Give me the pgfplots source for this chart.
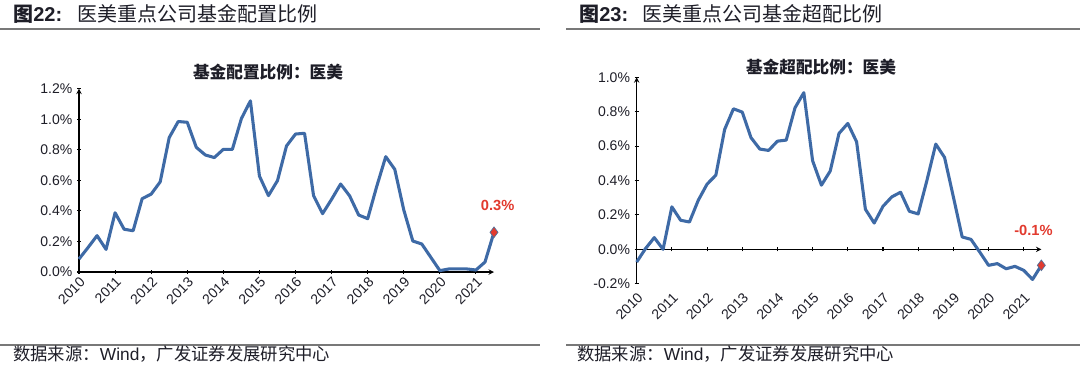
\documentclass[border=0pt]{standalone}
\usepackage{pgfplots}
\pgfplotsset{compat=1.18}
\usepackage{fontspec}
\setmainfont{Liberation Sans}
\newfontfamily\cjk{Noto Sans CJK SC}
\definecolor{lineblue}{RGB}{62,106,166}
\definecolor{lblred}{RGB}{226,58,46}
\definecolor{rulegray}{RGB}{120,120,120}
\definecolor{txt}{RGB}{30,30,40}

\pgfplotstableread{
x y
0 0.085
1 0.16
2 0.238
3 0.148
4 0.388
5 0.28
6 0.27
7 0.48
8 0.51
9 0.59
10 0.88
11 0.985
12 0.98
13 0.816
14 0.766
15 0.749
16 0.803
17 0.803
18 1.004
19 1.12
20 0.628
21 0.50
22 0.598
23 0.825
24 0.903
25 0.908
26 0.50
27 0.382
28 0.476
29 0.576
30 0.498
31 0.373
32 0.349
33 0.56
34 0.755
35 0.672
36 0.406
37 0.203
38 0.183
39 0.096
40 0.009
41 0.02
42 0.02
43 0.02
44 0.013
45 0.065
46 0.26
}\alloc

\pgfplotstableread{
x y
0 -0.074
1 0.004
2 0.068
3 0.0
4 0.247
5 0.169
6 0.159
7 0.285
8 0.379
9 0.431
10 0.697
11 0.817
12 0.798
13 0.649
14 0.583
15 0.575
16 0.629
17 0.635
18 0.823
19 0.911
20 0.515
21 0.373
22 0.455
23 0.674
24 0.732
25 0.625
26 0.233
27 0.153
28 0.25
29 0.305
30 0.332
31 0.221
32 0.206
33 0.402
34 0.612
35 0.534
36 0.305
37 0.072
38 0.058
39 -0.016
40 -0.093
41 -0.083
42 -0.113
43 -0.099
44 -0.122
45 -0.175
46 -0.093
}\overw

\pgfplotsset{
  mystyle/.style={
    scale only axis,
    axis line style={-, black, line width=0.8pt},
    tick style={black, line width=0.8pt},
    major tick length=3pt,
    tick align=outside,
    xmin=0, xmax=46,
    xtick={0,4,8,12,16,20,24,28,32,36,40,44},
    xticklabels={2010,2011,2012,2013,2014,2015,2016,2017,2018,2019,2020,2021},
    yticklabel style={font=\fontsize{10.5}{12}\selectfont, text=txt},
    /pgf/number format/assume math mode=true,
    yticklabel={\pgfmathprintnumber[fixed,fixed zerofill,precision=1]{\tick}\%},
    clip=false,
    hide obscured x ticks=false,
    hide obscured y ticks=false,
  },
  bluel/.style={line width=2.3pt, color=lineblue, line join=round, no marks},
  redmk/.style={only marks, mark=diamond*, mark size=4pt, mark options={fill=lblred, draw=lineblue!70!gray, line width=0.5pt}},
}

\begin{document}
\begin{tikzpicture}[x=0.75pt,y=0.75pt]
\useasboundingbox (0,0) rectangle (1080,376);
\fill[white] (0,0) rectangle (1080,376);

% headers
\node[anchor=west, inner sep=0, text=txt] at (13,362) {\fontsize{15}{18}\selectfont{\cjk\bfseries 图}\textbf{22:}};
\node[anchor=west, inner sep=0, text=txt] at (77,362) {\fontsize{15}{18}\selectfont\cjk 医美重点公司基金配置比例};
\node[anchor=west, inner sep=0, text=txt] at (579,362) {\fontsize{15}{18}\selectfont{\cjk\bfseries 图}\textbf{23:}};
\node[anchor=west, inner sep=0, text=txt] at (642,362) {\fontsize{15}{18}\selectfont\cjk 医美重点公司基金超配比例};
\draw[rulegray, line width=1.5] (0,346.7) -- (540,346.7);
\draw[rulegray, line width=1.5] (566,346.7) -- (1080,346.7);
\draw[rulegray, line width=1.5] (0,31) -- (540,31);
\draw[rulegray, line width=1.5] (566,31) -- (1080,31);
\node[anchor=west, inner sep=0, text=txt] at (13,22) {\fontsize{13}{15}\selectfont{\cjk 数据来源：}Wind{\cjk ，广发证券发展研究中心}};
\node[anchor=west, inner sep=0, text=txt] at (577,22) {\fontsize{13}{15}\selectfont{\cjk 数据来源：}Wind{\cjk ，广发证券发展研究中心}};

% subtitles
\node[text=txt] at (268,304) {\fontsize{12.5}{14}\selectfont\cjk\bfseries 基金配置比例：医美};
\node[text=txt] at (821,309) {\fontsize{12.5}{14}\selectfont\cjk\bfseries 基金超配比例：医美};

% left axis
\begin{axis}[mystyle, at={(59.25pt,78pt)}, anchor=south west,
  width=311.25pt, height=137.5pt,
  axis lines=left, ymin=0, ymax=1.2,
  ytick={0,0.2,0.4,0.6,0.8,1.0,1.2},
  every x tick label/.style={rotate=45, anchor=north east, inner sep=1pt, font=\fontsize{10.5}{12}\selectfont, text=txt}]
\addplot[bluel] table[x=x,y=y] {\alloc};
\addplot[redmk] coordinates {(46,0.26)};
\node[text=lblred, font=\bfseries\fontsize{11}{13}\selectfont] at (axis cs:46.4,0.434) {0.3\%};
\end{axis}

% right axis
\begin{axis}[mystyle, at={(477.5pt,69.2pt)}, anchor=south west,
  width=303.5pt, height=154.8pt,
  axis x line=middle, axis y line=left, ymin=-0.2, ymax=1.0,
  ytick={-0.2,0,0.2,0.4,0.6,0.8,1.0},
  every x tick label/.style={yshift=-28.8pt, rotate=45, anchor=north east, inner sep=1pt, font=\fontsize{10.5}{12}\selectfont, text=txt}]
\addplot[bluel] table[x=x,y=y] {\overw};
\addplot[redmk] coordinates {(46,-0.093)};
\node[text=lblred, font=\bfseries\fontsize{11}{13}\selectfont] at (axis cs:45.1,0.112) {-0.1\%};
\end{axis}
\end{tikzpicture}
\end{document}
